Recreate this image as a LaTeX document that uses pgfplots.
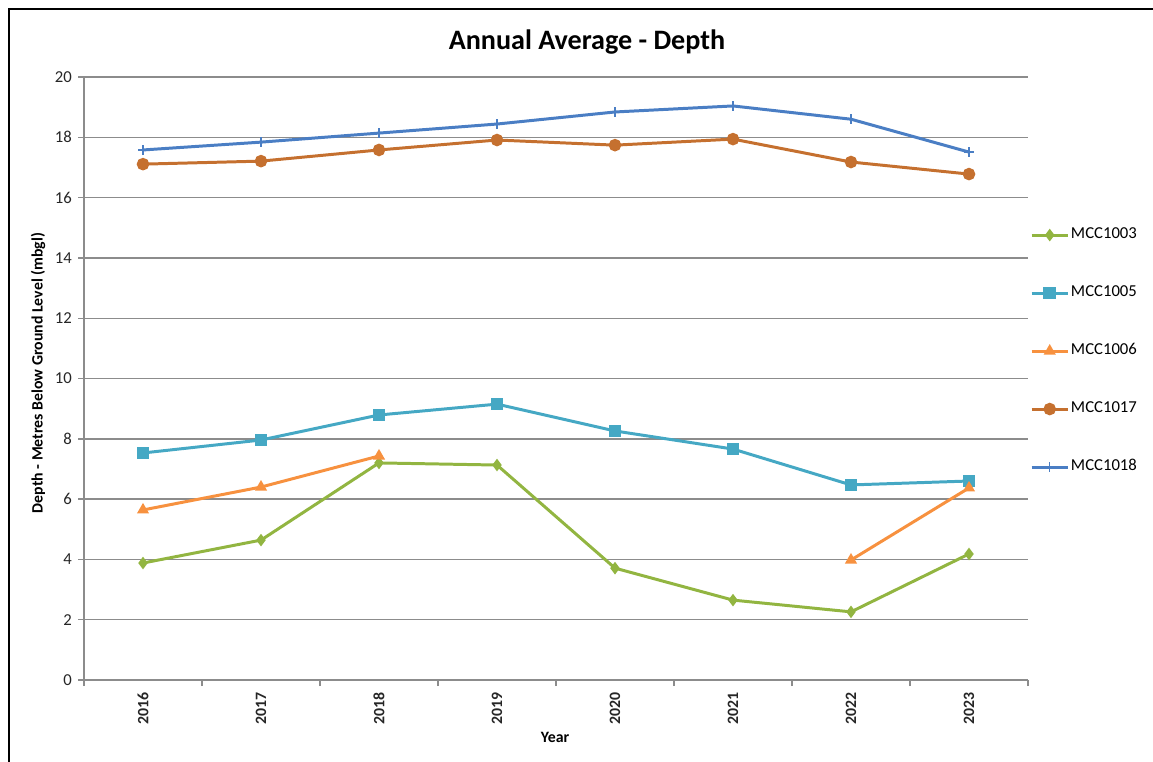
\documentclass[border=0pt]{standalone}
\usepackage{fontspec}
\setmainfont{Carlito}
\usepackage{pgfplots}
\pgfplotsset{compat=1.18}
\definecolor{cGreen}{HTML}{92B541}
\definecolor{cTeal}{HTML}{45A8C4}
\definecolor{cOrange}{HTML}{F7913F}
\definecolor{cBrown}{HTML}{C5702F}
\definecolor{cBlue}{HTML}{4A7EC4}
\definecolor{gridGrey}{HTML}{8C8C8C}

\begin{document}
\begin{tikzpicture}
% page is 1153x762 px at 0.02cm per px
\useasboundingbox (0,0) rectangle (23.06,-15.24);
\draw[line width=1.2pt,black] (0.18,-15.4) -- (0.18,-0.18) -- (23.2,-0.18);

\begin{axis}[
  at={(1.68cm,-13.60cm)}, anchor=south west,
  scale only axis, width=18.88cm, height=12.06cm,
  xmin=2015.5, xmax=2023.5, ymin=0, ymax=20,
  xtick={2016,2017,2018,2019,2020,2021,2022,2023},
  minor xtick={2015.5,2016.5,2017.5,2018.5,2019.5,2020.5,2021.5,2022.5,2023.5},
  xticklabel={\pgfmathprintnumber[1000 sep={}]{\tick}},
  xticklabel style={rotate=90,anchor=east,font=\bfseries\fontsize{9}{10}\selectfont,text=black!85},
  ytick={0,2,...,20},
  yticklabel style={font=\fontsize{9.5}{11}\selectfont,text=black!85},
  /pgf/number format/assume math mode=true,
  axis x line*=bottom, axis y line*=left,
  axis line style={gridGrey,line width=0.8pt},
  tick align=outside, major tick length=0.12cm, minor tick length=0.12cm,
  major x tick style={draw=none},
  tick style={gridGrey,line width=0.8pt},
  ymajorgrids, grid style={gridGrey,line width=0.8pt},
  unbounded coords=jump,
  legend style={at={(1.002,0.753)},anchor=north west,draw=none,fill=none,
    inner sep=0pt,font=\fontsize{9.5}{11}\selectfont,
    nodes={inner sep=1pt,anchor=west,text height=6pt,text depth=2pt},
    row sep=23pt},
  legend cell align=left,
  legend image code/.code={\draw[mark repeat=2,mark phase=2,#1] plot coordinates {(0cm,0cm)(0.36cm,0cm)(0.72cm,0cm)};},
]
\addplot[color=cGreen,line width=1.7pt,mark=diamond*,mark size=2.2pt] coordinates {
  (2016,3.88) (2017,4.64) (2018,7.20) (2019,7.13)
  (2020,3.71) (2021,2.65) (2022,2.26) (2023,4.18)
};
\addlegendentry{MCC1003}

\addplot[color=cTeal,line width=1.7pt,mark=square*,mark size=2.7pt] coordinates {
  (2016,7.53) (2017,7.96) (2018,8.79) (2019,9.15)
  (2020,8.26) (2021,7.66) (2022,6.47) (2023,6.60)
};
\addlegendentry{MCC1005}

% MCC1006 has no readings 2019-2021
\addplot[color=cOrange,line width=1.7pt,mark=triangle*,mark size=2.3pt] coordinates {
  (2016,5.64) (2017,6.40) (2018,7.43) (2019,nan)
  (2020,nan) (2021,nan) (2022,3.98) (2023,6.37)
};
\addlegendentry{MCC1006}

\addplot[color=cBrown,line width=1.7pt,mark=*,mark size=2.7pt] coordinates {
  (2016,17.11) (2017,17.21) (2018,17.58) (2019,17.91)
  (2020,17.74) (2021,17.94) (2022,17.18) (2023,16.78)
};
\addlegendentry{MCC1017}

\addplot[color=cBlue,line width=1.7pt,mark=+,mark size=2.8pt,mark options={line width=0.8pt}] coordinates {
  (2016,17.58) (2017,17.84) (2018,18.14) (2019,18.44)
  (2020,18.84) (2021,19.04) (2022,18.60) (2023,17.51)
};
\addlegendentry{MCC1018}
\end{axis}

\node[font=\bfseries\fontsize{16}{19}\selectfont] at (11.74,-0.84) {Annual Average - Depth};
\node[rotate=90,font=\bfseries\fontsize{9}{10}\selectfont] at (0.76,-7.46) {Depth - Metres Below Ground Level (mbgl)};
\node[font=\bfseries\fontsize{9}{10}\selectfont] at (11.10,-14.74) {Year};
\end{tikzpicture}
\end{document}
